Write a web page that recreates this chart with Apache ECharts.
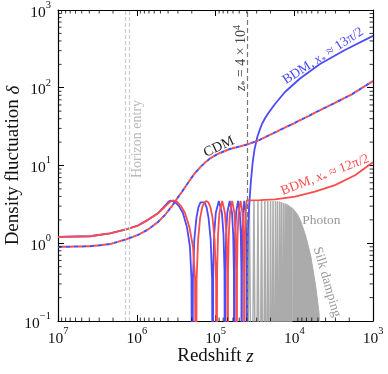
<!DOCTYPE html>
<html>
  <head>
    <meta charset="utf-8" />
    <title>BDM density fluctuation</title>
    <script src="https://cdn.jsdelivr.net/npm/echarts@6/dist/echarts.min.js"></script>
    <style>
      html, body { margin: 0; padding: 0; background: #fff; }
    </style>
  </head>

  <body>
    <div id="main" style="width: 388px; height: 374px"></div>

    <script>
      // redshift z, density fluctuation delta
      var blueBdm = [
        [1e7, 1.21], [3.92e6, 1.23], [2.19e6, 1.34], [1.37e6, 1.51], [9.64e5, 1.69], [7.2e5, 2.0],
        [5.37e5, 2.43], [4.38e5, 3.05], [3.9e5, 3.45], [3.67e5, 3.55], [3.27e5, 3.4], [2.91e5, 3.0],
        [2.59e5, 2.45], [2.3e5, 1.6], [2.11e5, 0.9], [2.02e5, 0.35], [1.97e5, 0.001],
        [1.936e5, 0.34], [1.859e5, 1.1], [1.748e5, 2.1], [1.649e5, 2.9], [1.55e5, 3.35], [1.462e5, 3.5],
        [1.38e5, 3.35], [1.297e5, 2.9], [1.224e5, 2.1], [1.151e5, 1.1], [1.105e5, 0.34], [1.085e5, 0.001],
        [1.07e5, 0.44], [1.039e5, 1.29], [9.91e4, 2.47], [9.07e4, 3.5], [8.29e4, 2.47], [7.91e4, 1.29], [7.69e4, 0.44], [7.57e4, 0.001],
        [7.49e4, 0.44], [7.33e4, 1.29], [7.08e4, 2.47], [6.61e4, 3.5], [6.17e4, 2.47], [5.96e4, 1.29], [5.84e4, 0.44], [5.77e4, 0.001],
        [5.72e4, 0.44], [5.62e4, 1.29], [5.47e4, 2.47], [5.18e4, 3.5], [4.91e4, 2.47], [4.77e4, 1.29], [4.69e4, 0.44], [4.65e4, 0.001],
        [4.62e4, 0.44], [4.57e4, 1.29], [4.48e4, 2.47], [4.31e4, 3.5], [4.16e4, 2.47], [4.07e4, 1.29], [4.03e4, 0.44], [4.0e4, 0.001],
        [3.95e4, 0.5], [3.87e4, 1.5], [3.75e4, 2.8], [3.65e4, 4.3], [3.54e4, 6.5], [3.37e4, 11], [3.2e4, 16],
        [2.94e4, 23.4], [2.75e4, 28.5], [2.57e4, 34.2], [2.35e4, 40.5], [2.14e4, 46.9], [1.755e4, 61.8],
        [1.311e4, 88.2], [8.45e3, 131.5], [4.71e3, 202], [2.27e3, 306], [1e3, 464]
      ];
      var redBdm = [
        [1e7, 1.21], [3.92e6, 1.23], [2.19e6, 1.34], [1.37e6, 1.51], [9.64e5, 1.69], [7.2e5, 2.0],
        [5.37e5, 2.43], [4.38e5, 2.95], [3.78e5, 3.4], [3.47e5, 3.55], [3.08e5, 3.4], [2.74e5, 3.0],
        [2.44e5, 2.45], [2.14e5, 1.6], [1.931e5, 0.9], [1.821e5, 0.35], [1.769e5, 0.001],
        [1.738e5, 0.34], [1.663e5, 1.1], [1.569e5, 2.1], [1.475e5, 2.9], [1.388e5, 3.35], [1.307e5, 3.5],
        [1.231e5, 3.35], [1.157e5, 2.9], [1.089e5, 2.1], [1.027e5, 1.1], [9.83e4, 0.34], [9.65e4, 0.001],
        [9.54e4, 0.44], [9.29e4, 1.29], [8.91e4, 2.47], [8.22e4, 3.5], [7.59e4, 2.47], [7.27e4, 1.29], [7.08e4, 0.44], [7.0e4, 0.001],
        [6.93e4, 0.44], [6.78e4, 1.29], [6.55e4, 2.47], [6.14e4, 3.5], [5.75e4, 2.47], [5.56e4, 1.29], [5.44e4, 0.44], [5.38e4, 0.001],
        [5.33e4, 0.44], [5.24e4, 1.29], [5.09e4, 2.47], [4.81e4, 3.5], [4.55e4, 2.47], [4.42e4, 1.29], [4.35e4, 0.44], [4.31e4, 0.001],
        [4.28e4, 0.44], [4.23e4, 1.29], [4.15e4, 2.47], [4.0e4, 3.55],
        [2.72e4, 3.58], [1.755e4, 3.67], [9.78e3, 3.97], [5.45e3, 4.6], [3.04e3, 5.6], [1.69e3, 7.5], [1e3, 11]
      ];
      var cdm = [
        [1e7, 0.896], [3.92e6, 0.914], [2.19e6, 0.975], [1.37e6, 1.12], [9.64e5, 1.28], [7.2e5, 1.5],
        [5.37e5, 1.88], [4.38e5, 2.31], [3.57e5, 3.01], [2.82e5, 4.24], [2.11e5, 6.5], [1.821e5, 8.0],
        [1.573e5, 9.43], [1.359e5, 10.9], [1.175e5, 12.3], [1.015e5, 13.45], [8.77e4, 14.5], [6.55e4, 16.3],
        [3.98e4, 18.6], [2.94e4, 20.7], [1.007e4, 34.9], [3.8e3, 57.3], [1.92e3, 80.7], [1e3, 122]
      ];
      var photonLobes = [
        [40000, 1e-3], [37200, 3.5], [34700, 1e-3], [32500, 3.5], [30600, 1e-3], [28900, 3.5],
        [27400, 1e-3], [26000, 3.5], [24800, 1e-3], [23600, 3.5], [22600, 1e-3], [21700, 3.5],
        [20800, 1e-3], [20000, 3.5], [19300, 1e-3], [18600, 3.5], [17900, 1e-3], [17300, 3.5],
        [16800, 1e-3], [16300, 3.48], [15800, 1e-3], [15300, 3.45], [14900, 1e-3], [14500, 3.38],
        [14100, 1e-3], [13700, 3.3], [13300, 1e-3], [13000, 3.25], [12700, 1e-3], [12400, 3.2],
        [12100, 1e-3], [11850, 3.1], [11600, 1e-3], [11350, 3.0], [11100, 1e-3], [10850, 2.9], [10600, 1e-3]
      ];
      var photonDamped = [
        [10600, 2.85], [10070, 2.74], [9090, 2.35], [8280, 1.93], [7150, 1.24], [6180, 0.69],
        [5340, 0.28], [4850, 0.128], [4650, 0.05]
      ];
      var horizonZ = [1.4e6, 1.26e6];
      var zStar = 4e4;

      var serif = "'Liberation Serif', 'DejaVu Serif', serif";
      var BLUE = "#4b4bf7";
      var RED = "#fb4b4b";
      var GRAY = "#ababab";

      function powLabel(v) {
        var e = Math.round(Math.log10(v));
        return "{b|10}{s|" + (e < 0 ? "\u2212" + -e : e) + "}";
      }
      var tickRich = {
        b: { fontFamily: serif, fontSize: 15.5, color: "#111", lineHeight: 21, verticalAlign: "bottom" },
        s: { fontFamily: serif, fontSize: 10.5, color: "#111", lineHeight: 10, verticalAlign: "top" },
      };

      function logAxis(pos, min, max, extra) {
        var a = {
          type: "log",
          logBase: 10,
          position: pos,
          min: min,
          max: max,
          axisLine: { show: true, onZero: false, lineStyle: { color: "#000", width: 1.2 } },
          axisTick: { show: true, inside: true, length: 6, lineStyle: { color: "#000", width: 1 } },
          axisLabel: { show: false },
          splitLine: { show: false },
        };
        return Object.assign(a, extra || {});
      }

      var lineBase = {
        type: "line",
        showSymbol: false,
        symbol: "none",
        silent: true,
        animation: false,
        xAxisIndex: 0,
        yAxisIndex: 0,
      };

      var titleStyle = {
        fontFamily: serif, fontSize: 19, color: "#111",
        rich: { i: { fontFamily: serif, fontSize: 19, fontStyle: "italic", color: "#111" } },
      };

      var option = {
        animation: false,
        grid: { left: 58, right: 15, top: 10, bottom: 53, outerBoundsMode: "none", containLabel: false },
        xAxis: [
          logAxis("bottom", 1e3, 1e7, {
            inverse: true,
            axisLabel: { show: true, formatter: powLabel, rich: tickRich, margin: 5 },
            name: "Redshift {i|z}",
            nameLocation: "middle",
            nameGap: 26,
            nameMoveOverlap: false,
            nameTextStyle: titleStyle,
          }),
          logAxis("top", 1e3, 1e7, { inverse: true }),
        ],
        yAxis: [
          logAxis("left", 0.1, 1000, {
            axisLabel: { show: true, formatter: powLabel, rich: tickRich, margin: 7 },
            name: "Density fluctuation {i|δ}",
            nameLocation: "middle",
            nameGap: 35,
            nameMoveOverlap: false,
            nameTextStyle: titleStyle,
          }),
          logAxis("right", 0.1, 1000),
        ],
        series: [
          Object.assign({}, lineBase, {
            name: "photon",
            data: photonLobes,
            lineStyle: { color: GRAY, width: 1.5 },
            z: 1,
            markLine: {
              silent: true,
              symbol: ["none", "none"],
              label: { show: false },
              animation: false,
              data: [
                { xAxis: horizonZ[0], lineStyle: { color: "#cfcfcf", width: 1.3, type: [4, 2] } },
                { xAxis: horizonZ[1], lineStyle: { color: "#cfcfcf", width: 1.3, type: [4, 2] } },
                { xAxis: zStar, lineStyle: { color: "#777", width: 1.2, type: [5, 3] } },
              ],
            },
          }),
          Object.assign({}, lineBase, {
            name: "photon damped",
            data: photonDamped,
            lineStyle: { color: GRAY, width: 1 },
            areaStyle: { color: GRAY, opacity: 1, origin: "start" },
            z: 1,
          }),
          Object.assign({}, lineBase, {
            name: "BDM 13pi/2",
            data: blueBdm,
            lineStyle: { color: BLUE, width: 1.8 },
            z: 3,
          }),
          Object.assign({}, lineBase, {
            name: "BDM 12pi/2",
            data: redBdm,
            lineStyle: { color: RED, width: 1.8 },
            z: 4,
          }),
          Object.assign({}, lineBase, {
            name: "CDM blue",
            data: cdm,
            lineStyle: { color: BLUE, width: 2, type: [4, 4] },
            z: 5,
          }),
          Object.assign({}, lineBase, {
            name: "CDM red",
            data: cdm,
            lineStyle: { color: RED, width: 2, type: [4, 4], dashOffset: 4 },
            z: 6,
          }),
        ],
      };

      var chart = echarts.init(document.getElementById("main"));
      chart.setOption(option);

      // annotations: anchor [z, delta], rotation in degrees
      var notes = [
        { at: [9.03e4, 17.3], rot: 25, color: "#222", size: 14, text: "{t|CDM}" },
        { at: [4.31e3, 256], rot: 33, color: BLUE, size: 13.5, text: "{t|BDM, }{i|x}{u|*}{t| ≈ 13π/2}" },
        { at: [4.07e3, 7.55], rot: 21, color: RED, size: 13.5, text: "{t|BDM, }{i|x}{u|*}{t| ≈ 12π/2}" },
        { at: [4.75e4, 241], rot: 90, color: "#444", size: 14, text: "{i|z}{u|*}{t| = 4 × 10}{p|4}" },
        { at: [9.78e5, 21.9], rot: 90, color: "#bbb", size: 14, text: "{t|Horizon entry}" },
        { at: [4.51e3, 1.99], rot: 0, color: "#999", size: 13.5, text: "{t|Photon}" },
        { at: [3.84e3, 0.317], rot: -74, color: "#999", size: 13.5, text: "{t|Silk damping}" },
      ];

      function richFor(size, color) {
        return {
          t: { fill: color, fontFamily: serif, fontSize: size, lineHeight: 18, verticalAlign: "middle" },
          i: { fill: color, fontFamily: serif, fontSize: size, fontStyle: "italic", lineHeight: 18, verticalAlign: "middle" },
          u: { fill: color, fontFamily: serif, fontSize: size * 0.7, lineHeight: 8, verticalAlign: "bottom" },
          p: { fill: color, fontFamily: serif, fontSize: size * 0.7, lineHeight: 8, verticalAlign: "top" },
        };
      }

      function tickLine(x1, y1, x2, y2) {
        return {
          type: "line",
          silent: true,
          shape: { x1: x1, y1: y1, x2: x2, y2: y2 },
          style: { stroke: "#000", lineWidth: 0.8 },
          z: 20,
        };
      }

      var els = [];
      var yB = chart.convertToPixel({ yAxisIndex: 0 }, 0.1);
      var yT = chart.convertToPixel({ yAxisIndex: 0 }, 1000);
      var xL = chart.convertToPixel({ xAxisIndex: 0 }, 1e7);
      var xR = chart.convertToPixel({ xAxisIndex: 0 }, 1e3);
      for (var e = 3; e < 7; e++) {
        for (var m = 2; m < 10; m++) {
          var x = chart.convertToPixel({ xAxisIndex: 0 }, m * Math.pow(10, e));
          els.push(tickLine(x, yB, x, yB - 3.5), tickLine(x, yT, x, yT + 3.5));
        }
      }
      for (var e2 = -1; e2 < 3; e2++) {
        for (var m2 = 2; m2 < 10; m2++) {
          var y = chart.convertToPixel({ yAxisIndex: 0 }, m2 * Math.pow(10, e2));
          els.push(tickLine(xL, y, xL + 3.5, y), tickLine(xR, y, xR - 3.5, y));
        }
      }
      notes.forEach(function (n) {
        var p = chart.convertToPixel({ xAxisIndex: 0, yAxisIndex: 0 }, n.at);
        els.push({
          type: "text",
          silent: true,
          x: p[0],
          y: p[1],
          rotation: (n.rot * Math.PI) / 180,
          z: 30,
          style: {
            text: n.text,
            align: "center",
            verticalAlign: "middle",
            fill: n.color,
            fontFamily: serif,
            fontSize: n.size,
            rich: richFor(n.size, n.color),
          },
        });
      });
      chart.setOption({ graphic: els });
    </script>
  </body>
</html>
